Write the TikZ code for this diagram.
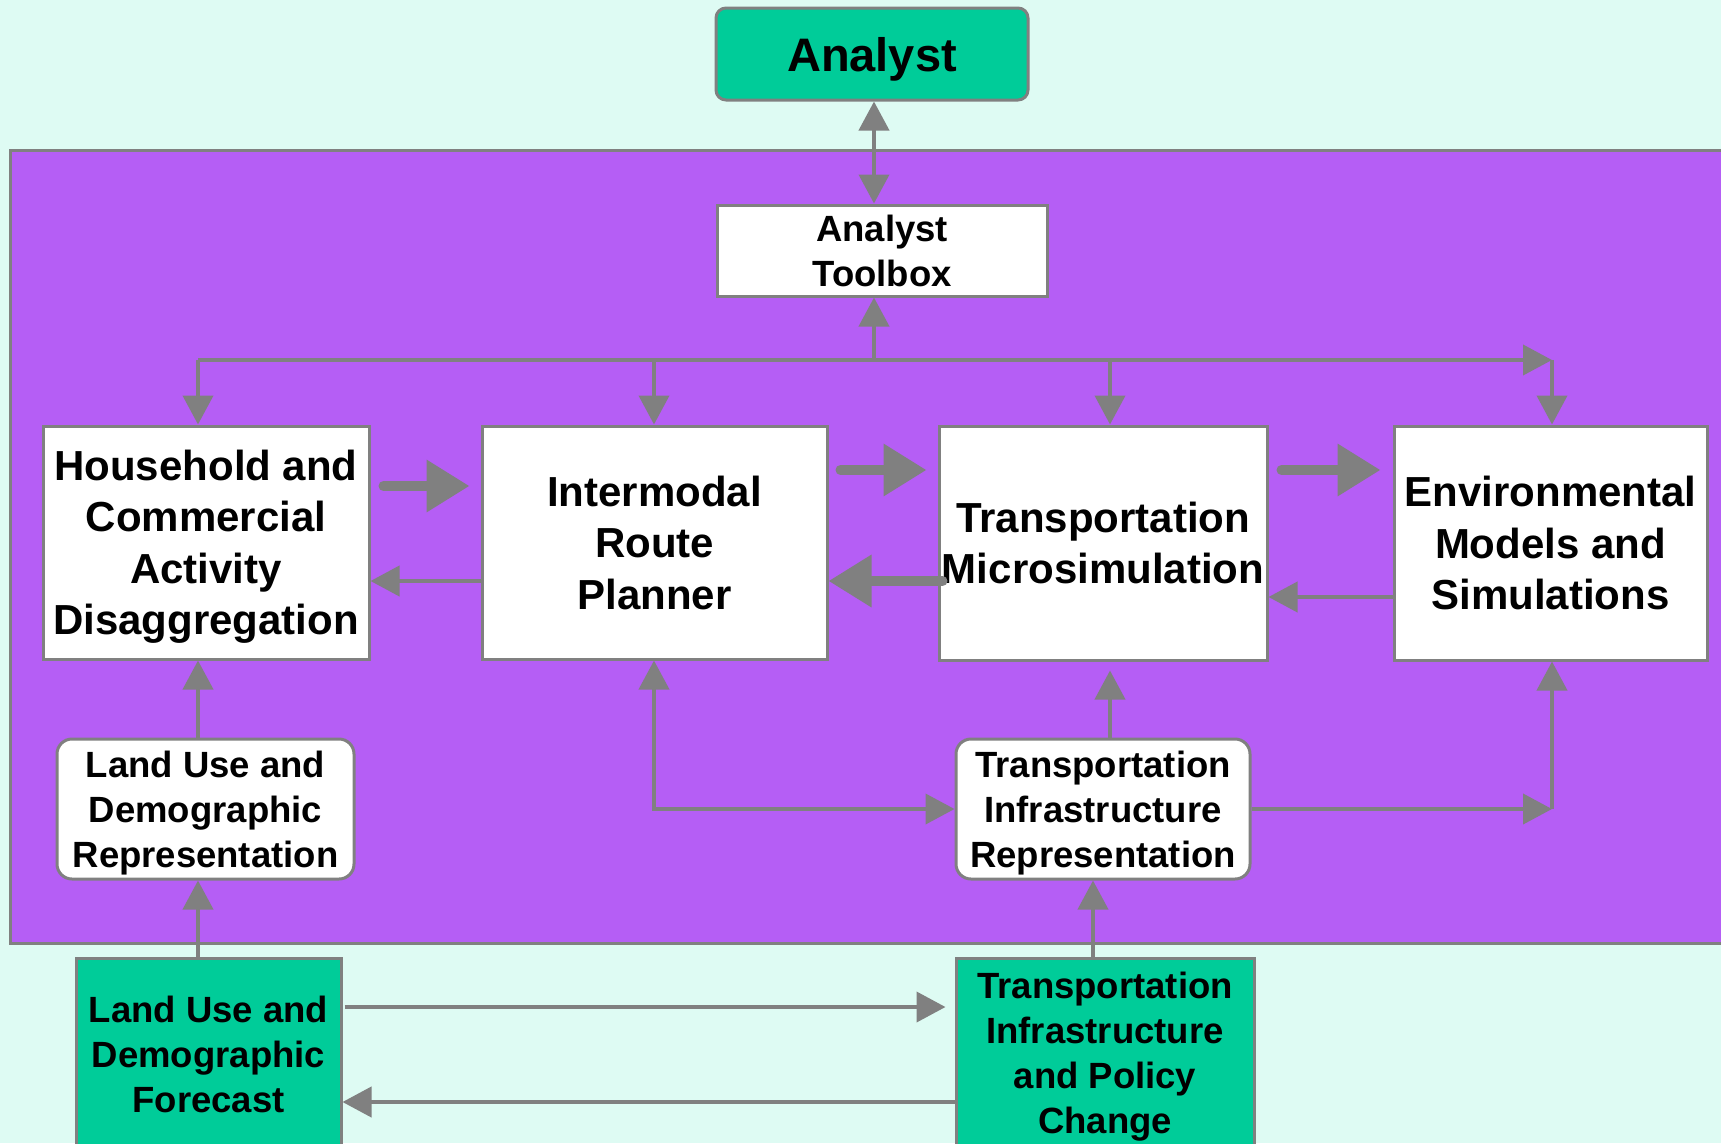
\documentclass[tikz,border=0pt]{standalone}
\usepackage{fontspec}
\setmainfont{Liberation Sans}
\usetikzlibrary{arrows.meta}

\definecolor{mintbg}{RGB}{222,251,243}
\definecolor{violetbg}{RGB}{181,94,245}
\definecolor{seagreen}{RGB}{0,204,153}
\definecolor{linegray}{RGB}{128,128,128}

\tikzset{
    box/.style={draw=linegray, line width=3pt, fill=white, inner sep=0pt, align=center,
        text depth=-2pt, font=\bfseries\fontsize{42}{51.5}\selectfont},
    smallbox/.style={box, font=\bfseries\fontsize{36.5}{45}\selectfont},
    roundbox/.style={smallbox, rounded corners=15pt},
    greenbox/.style={smallbox, fill=seagreen},
    link/.style={draw=linegray, line width=4pt},
    biglink/.style={draw=linegray, line width=10pt, line cap=round, -{Triangle[length=43pt,width=50pt]}}
}

\begin{document}
\begin{tikzpicture}[x=1pt, y=-1pt, >={Triangle[length=29pt,width=30pt]}]
        \useasboundingbox (0,0) rectangle (1721,1143);
        \clip (0,0) rectangle (1721,1143);

        % Background and frame
        \fill[mintbg] (0,0) rectangle (1721,1143);
        \filldraw[fill=violetbg, draw=linegray, line width=3pt] (10,150) rectangle (1740,943);

        % Columns and rows of the connectors
        \coordinate (c1) at (198,0);
        \coordinate (c2) at (654,0);
        \coordinate (c3) at (1110,0);
        \coordinate (c4) at (1552,0);
        \coordinate (ca) at (874,0);
        \coordinate (ct) at (1093,0);
        \coordinate (bus) at (0,360);
        \coordinate (hi1) at (0,486);
        \coordinate (hi2) at (0,470);
        \coordinate (lo1) at (0,581);
        \coordinate (lo2) at (0,597);
        \coordinate (fwd) at (0,1007);
        \coordinate (back) at (0,1102);

        % Analyst
        \node[box, fill=seagreen, rounded corners=10pt, minimum width=312, minimum height=92,
            text depth=-3pt, font=\bfseries\fontsize{47}{56}\selectfont] (Analyst) at (872,54) {Analyst};
        \node[smallbox, minimum width=330, minimum height=91] (Toolbox) at (882,250.5) {Analyst\\Toolbox};

        % Models
        \node[box, minimum width=326, minimum height=233] (HCA) at (206,542.5)
            {Household and\\Commercial\\Activity\\Disaggregation};
        \node[box, minimum width=345, minimum height=233] (IRP) at (654.5,542.5)
            {Intermodal\\Route\\Planner};
        \node[box, minimum width=328, minimum height=234] (TMS) at (1103,543)
            {Transportation\\Microsimulation};
        \node[box, minimum width=313, minimum height=234] (EMS) at (1550.5,543)
            {Environmental\\Models and\\Simulations};

        % Representations
        \node[roundbox, minimum width=297, minimum height=140] (LUR) at (205.5,809)
            {Land Use and\\Demographic\\Representation};
        \node[roundbox, minimum width=294, minimum height=140] (TIR) at (1103,809)
            {Transportation\\Infrastructure\\Representation};

        % Inputs
        \node[greenbox, minimum width=265, minimum height=192] (LUF) at (208.5,1054)
            {Land Use and\\Demographic\\Forecast};
        \node[greenbox, minimum width=298, minimum height=190] (TIPC) at (1105,1053)
            {Transportation\\Infrastructure\\and Policy\\Change};

        % Analyst and toolbox
        \draw[link, <->] (ca |- Analyst.south) -- (ca |- Toolbox.north);
        \draw[link, ->] (ca |- bus) -- (ca |- Toolbox.south);
        \draw[link, ->] (c1 |- bus) -- (c4 |- bus);
        \foreach \col/\model in {c1/HCA, c2/IRP, c3/TMS, c4/EMS}
            \draw[link, ->] (\col |- bus) -- (\col |- \model.north);

        % Between the models
        \draw[biglink, shorten <=13pt, shorten >=11pt] (HCA.east |- hi1) -- (IRP.west |- hi1);
        \draw[biglink, shorten <=12pt, shorten >=11pt] (IRP.east |- hi2) -- (TMS.west |- hi2);
        \draw[biglink, shorten <=13pt, shorten >=12pt] (TMS.east |- hi2) -- (EMS.west |- hi2);
        \draw[biglink] ([xshift=5pt]TMS.west |- lo1) -- (IRP.east |- lo1);
        \draw[link, ->] (IRP.west |- lo1) -- (HCA.east |- lo1);
        \draw[link, ->] (EMS.west |- lo2) -- (TMS.east |- lo2);

        % Representations to models
        \draw[link, ->] (c1 |- LUR.north) -- (c1 |- HCA.south);
        \draw[link, <->] (c2 |- IRP.south) |- (TIR.west);
        \draw[link, ->, shorten >=9pt] (c3 |- TIR.north) -- (c3 |- TMS.south);
        \draw[link, ->] (TIR.east) -- (c4 |- TIR.east) coordinate (corner);
        \draw[link, ->] (corner) -- (c4 |- EMS.south);

        % Inputs
        \draw[link, ->] (c1 |- LUF.north) -- (c1 |- LUR.south);
        \draw[link, ->] (ct |- TIPC.north) -- (ct |- TIR.south);
        \draw[link, ->, shorten <=2pt, shorten >=9pt] (LUF.east |- fwd) -- (TIPC.west |- fwd);
        \draw[link, ->] (TIPC.west |- back) -- (LUF.east |- back);

    \end{tikzpicture}
\end{document}
